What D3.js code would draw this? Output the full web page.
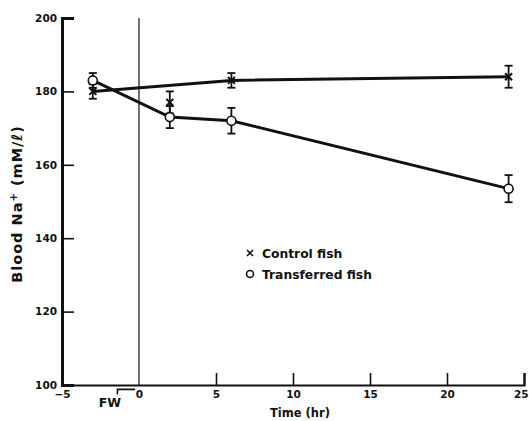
<!DOCTYPE html>
<html>
<head>
<meta charset="utf-8">
<script src="https://cdn.jsdelivr.net/npm/d3@7"></script>
<style>
  body { margin: 0; background: #fff; }
  svg { display: block; }
  text { font-family: "DejaVu Sans", sans-serif; font-weight: bold; fill: #111; }
</style>
</head>
<body>
<svg id="chart" width="529" height="421"></svg>
<script>
// Data
const controlTime = [-3, 2, 6, 24];
const controlNa = [180, 177, 183, 184];
const controlErr = [2, 3, 2, 3];
const controlLineTime = [-3, 6, 24];
const controlLineNa = [180, 183, 184];

const transferTime = [-3, 2, 6, 24];
const transferNa = [183, 173, 172, 153.5];
const transferErr = [2, 3, 3.5, 3.7];

const xTicks = [-5, 0, 5, 10, 15, 20, 25];
const yTicks = [100, 120, 140, 160, 180, 200];
const legendLabels = ["Control fish", "Transferred fish"];

const svg = d3.select("#chart");
const x = d3.scaleLinear().domain([-5, 25]).range([62, 524]);
const y = d3.scaleLinear().domain([100, 200]).range([385, 18]);

// Vertical line at time 0
svg.append("line")
  .attr("x1", x(0)).attr("x2", x(0))
  .attr("y1", y(200)).attr("y2", y(100))
  .attr("stroke", "#111").attr("stroke-width", 1.2);

// Axes
const yAxis = d3.axisLeft(y).tickValues(yTicks).tickSize(-12).tickPadding(16).tickFormat(d3.format("d"));
const gy = svg.append("g").attr("transform", `translate(${x(-5)},0)`).call(yAxis);
gy.select(".domain").attr("stroke", "#111").attr("stroke-width", 3);
gy.selectAll(".tick line").attr("stroke", "#111").attr("stroke-width", 1.6);
gy.selectAll(".tick text").attr("font-size", 10.5).attr("x", -5)
  .style("font-family", "DejaVu Sans").style("font-weight", "bold");

const xAxis = d3.axisBottom(x).tickValues(xTicks).tickSize(-12).tickPadding(16).tickFormat(d3.format("d"));
const gx = svg.append("g").attr("transform", `translate(0,${y(100)})`).call(xAxis);
gx.select(".domain").attr("stroke", "#111").attr("stroke-width", 2.2);
gx.selectAll(".tick line").attr("stroke", "#111").attr("stroke-width", 1.6);
gx.selectAll(".tick text").attr("font-size", 10.5).attr("y", 6).attr("dy", "0.71em")
  .style("font-family", "DejaVu Sans").style("font-weight", "bold");
gx.selectAll(".tick").filter(d => d === 25).select("text").attr("text-anchor", "end").attr("dx", 4);
gx.selectAll(".tick").filter(d => d === -5 || d === 0).select("line").remove();

// Axis labels
svg.append("text")
  .attr("x", 300).attr("y", 417)
  .attr("text-anchor", "middle").attr("font-size", 11.5)
  .text("Time (hr)");

const yl = svg.append("text")
  .attr("transform", "translate(22,204) rotate(-90)")
  .attr("text-anchor", "middle").attr("font-size", 14.5)
  .attr("letter-spacing", 1);
yl.append("tspan").text("Blood Na");
yl.append("tspan").attr("dy", -5).attr("font-size", 10).text("+");
yl.append("tspan").attr("dy", 5).text("  (mM/ℓ)");

// FW bracket
svg.append("path")
  .attr("d", `M${x(-1.4)},${y(98.8) + 5} V${y(98.8)} H${x(-0.25)}`)
  .attr("fill", "none").attr("stroke", "#111").attr("stroke-width", 1.6);
svg.append("text")
  .attr("x", 110).attr("y", 407)
  .attr("text-anchor", "middle").attr("font-size", 12.5)
  .text("FW");

// Lines
const line = d3.line().x(d => x(d[0])).y(d => y(d[1]));
svg.append("path")
  .datum(controlLineTime.map((t, i) => [t, controlLineNa[i]]))
  .attr("d", line).attr("fill", "none").attr("stroke", "#111").attr("stroke-width", 3);
svg.append("path")
  .datum(transferTime.map((t, i) => [t, transferNa[i]]))
  .attr("d", line).attr("fill", "none").attr("stroke", "#111").attr("stroke-width", 3);

// Error bars
function errorBars(times, vals, errs) {
  const g = svg.append("g").attr("stroke", "#111").attr("stroke-width", 1.8);
  times.forEach((t, i) => {
    const cx = x(t), top = y(vals[i] + errs[i]), bot = y(vals[i] - errs[i]);
    g.append("line").attr("x1", cx).attr("x2", cx).attr("y1", top).attr("y2", bot);
    g.append("line").attr("x1", cx - 4).attr("x2", cx + 4).attr("y1", top).attr("y2", top);
    g.append("line").attr("x1", cx - 4).attr("x2", cx + 4).attr("y1", bot).attr("y2", bot);
  });
}
errorBars(controlTime, controlNa, controlErr);
errorBars(transferTime, transferNa, transferErr);

// Markers
const crossSize = 3.5;
svg.append("g").selectAll("path").data(controlTime.map((t, i) => [t, controlNa[i]]))
  .join("path")
  .attr("d", d => { const cx = x(d[0]), cy = y(d[1]), s = crossSize;
    return `M${cx - s},${cy - s}L${cx + s},${cy + s}M${cx - s},${cy + s}L${cx + s},${cy - s}`; })
  .attr("stroke", "#111").attr("stroke-width", 2);

svg.append("g").selectAll("circle").data(transferTime.map((t, i) => [t, transferNa[i]]))
  .join("circle")
  .attr("cx", d => x(d[0])).attr("cy", d => y(d[1])).attr("r", 4.5)
  .attr("fill", "#fff").attr("stroke", "#111").attr("stroke-width", 1.6);

// Legend
const lg = svg.append("g");
lg.append("path")
  .attr("d", `M247,250L253,256M247,256L253,250`)
  .attr("stroke", "#111").attr("stroke-width", 1.6);
lg.append("circle").attr("cx", 250).attr("cy", 274).attr("r", 3.5)
  .attr("fill", "#fff").attr("stroke", "#111").attr("stroke-width", 1.6);
lg.selectAll("text").data(legendLabels).join("text")
  .attr("x", 262).attr("y", (d, i) => 258 + i * 21)
  .attr("font-size", 12.3)
  .text(d => d);
</script>
</body>
</html>
